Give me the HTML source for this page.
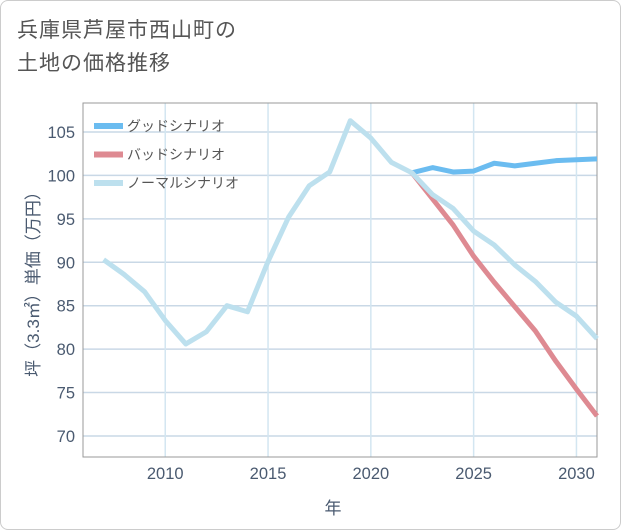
<!DOCTYPE html>
<html><head><meta charset="utf-8"><style>
body{margin:0;background:#fff;font-family:"Liberation Sans","Noto Sans CJK JP",sans-serif;}
#card{position:absolute;left:0;top:0;width:619px;height:528px;border:1px solid #ccc;border-radius:8px;background:#fff;}
#title{position:absolute;left:17px;top:14px;font-size:21px;line-height:33px;color:#555;letter-spacing:1px;}
svg{position:absolute;left:0;top:0;}
</style></head><body>
<div id="card"></div>
<div id="title">兵庫県芦屋市西山町の<br>土地の価格推移</div>
<svg id="chart" width="621" height="530"></svg>
<script>
const years=[2007,2008,2009,2010,2011,2012,2013,2014,2015,2016,2017,2018,2019,2020,2021,2022,2023,2024,2025,2026,2027,2028,2029,2030,2031];
const normalValues=[90.3,88.6,86.6,83.3,80.6,82.0,85.0,84.3,90.1,95.2,98.8,100.4,106.3,104.3,101.5,100.3,97.8,96.2,93.6,92.0,89.7,87.8,85.4,83.8,81.2];
const futureYears=[2022,2023,2024,2025,2026,2027,2028,2029,2030,2031];
const goodValues=[100.3,100.9,100.4,100.5,101.4,101.1,101.4,101.7,101.8,101.9];
const badValues=[100.3,97.3,94.3,90.7,87.7,84.9,82.1,78.6,75.4,72.3];
const xTicks=[2010,2015,2020,2025,2030];
const yTicks=[70,75,80,85,90,95,100,105];
const legendLabels=["グッドシナリオ","バッドシナリオ","ノーマルシナリオ"];
const colors=["#6bbcf0","#de8a92","#bde0ee"];

const L=83,R=597,T=103,B=457,x0=2006,x1=2031,y0=67.58,y1=108.34;
const X=v=>L+(v-x0)/(x1-x0)*(R-L);
const Y=v=>B-(v-y0)/(y1-y0)*(B-T);
const svg=document.getElementById('chart');
const NS='http://www.w3.org/2000/svg';
function mk(tag,attrs){const e=document.createElementNS(NS,tag);for(const k in attrs)e.setAttribute(k,attrs[k]);svg.appendChild(e);return e;}

yTicks.forEach(v=>{
  const l=mk('line',{x1:L,x2:R,y1:Y(v),y2:Y(v),stroke:'#c9d8e6','stroke-width':1.5});
  
  
  const t=mk('text',{x:L-8,y:Y(v)+6,'text-anchor':'end','font-size':16.5,fill:'#4a5a70'});
  t.textContent=v;
  
  
});
xTicks.forEach(v=>{
  const l=mk('line',{x1:X(v),x2:X(v),y1:T,y2:B,stroke:'#d3e6f1','stroke-width':1.5});
  
  
  const t=mk('text',{x:X(v),y:B+22,'text-anchor':'middle','font-size':16.5,fill:'#4a5a70'});
  t.textContent=v;
  
  
});
const frame=mk('rect',{x:L,y:T,width:R-L,height:B-T,fill:'none',stroke:'#999','stroke-width':1});



function line(xs,vs,c,name){
  const p=mk('polyline',{points:xs.map((x,i)=>X(x)+','+Y(vs[i])).join(' '),fill:'none',stroke:c,'stroke-width':5,'stroke-linejoin':'round'});
  
  
}
line(futureYears,goodValues,colors[0],'good-scenario-line');
line(futureYears,badValues,colors[1],'bad-scenario-line');
line(years,normalValues,colors[2],'normal-scenario-line');

legendLabels.forEach((s,i)=>{
  const y=126+i*28.5;
  const l=mk('line',{x1:94,x2:123,y1:y,y2:y,stroke:colors[i],'stroke-width':6});
  
  
  const t=mk('text',{x:127,y:y+5,'font-size':14,fill:'#555'});
  t.textContent=s;
  
  
});
const xt=mk('text',{x:333,y:514,'text-anchor':'middle','font-size':17,fill:'#4a5a70'});
xt.textContent='年';


const yt=mk('text',{x:0,y:0,'text-anchor':'middle','font-size':17,fill:'#4a5a70',transform:'translate(39,280) rotate(-90)'});
yt.textContent='坪（3.3㎡）単価（万円）';


</script>
</body></html>
